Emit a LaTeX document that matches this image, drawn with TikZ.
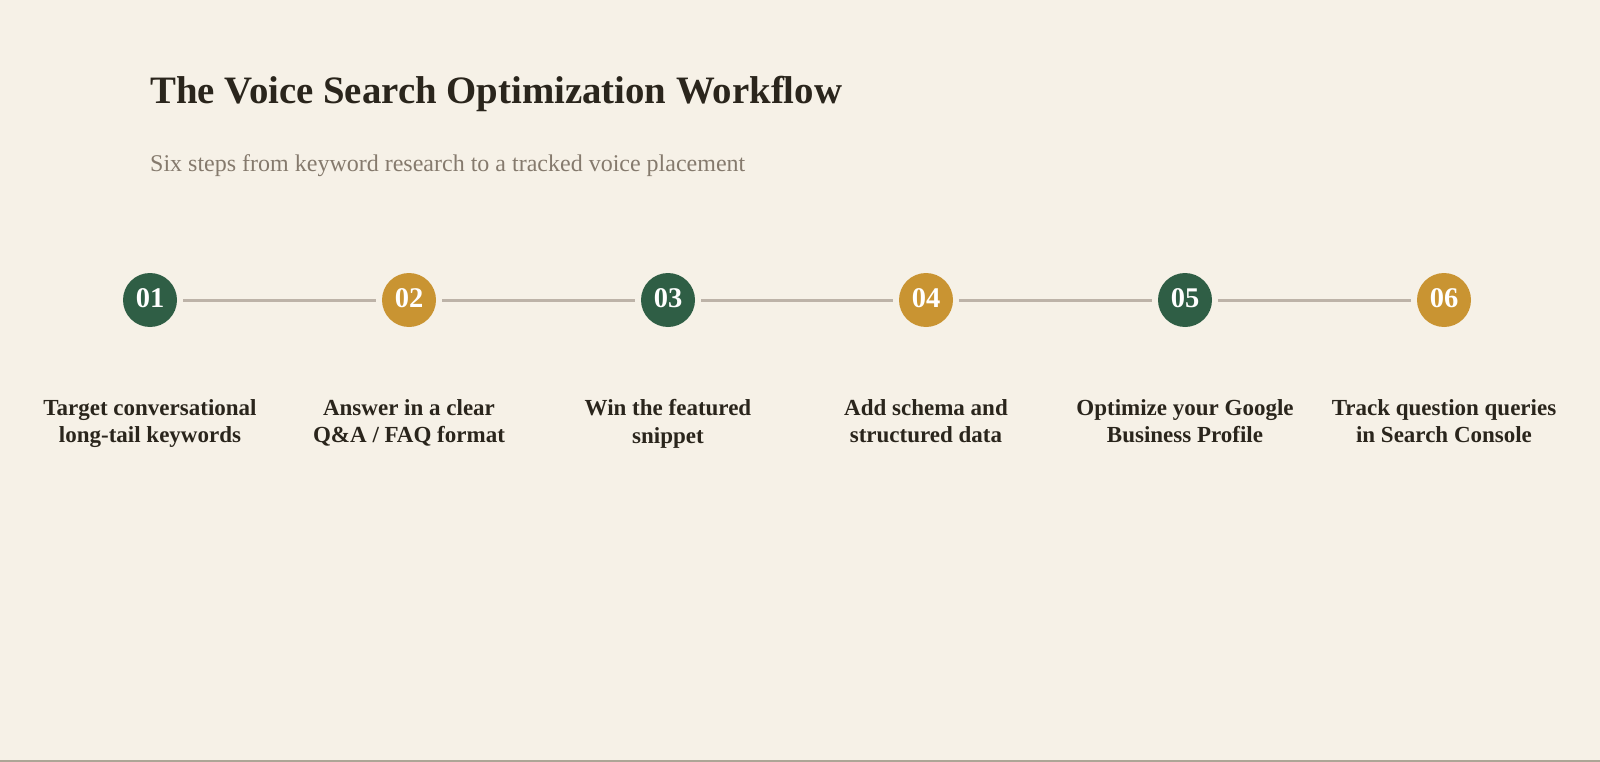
\documentclass[tikz,border=0pt]{standalone}
\usepackage{fontspec}
\setmainfont{Liberation Serif}
\definecolor{bg}{HTML}{F6F1E7}
\definecolor{stepgreen}{HTML}{2F5E45}
\definecolor{stepgold}{HTML}{C99432}
\definecolor{ink}{HTML}{2A251C}
\definecolor{subgray}{HTML}{857A6D}
\definecolor{linegray}{HTML}{BDB3A8}
\definecolor{edgegray}{HTML}{ADA596}
\begin{document}
\begin{tikzpicture}[x=1pt,y=-1pt,
  dot/.style={circle,minimum size=54pt,inner sep=0pt,text=white,font=\bfseries\fontsize{28.5}{30}\selectfont},
  gdot/.style={dot,fill=stepgreen},
  ydot/.style={dot,fill=stepgold},
  link/.style={draw=linegray,line width=3pt,shorten <=6pt,shorten >=6pt},
  label/.style={align=center,text=ink,font=\bfseries\fontsize{23}{27.5}\selectfont,anchor=north}]
\fill[bg] (0,0) rectangle (1600,762);
\useasboundingbox (0,0) rectangle (1600,762);
\draw[edgegray,line width=1.5pt] (0,761.2) -- (1600,761.2);
\node[anchor=base west,text=ink,font=\bfseries\fontsize{38.8}{44}\selectfont,inner sep=0pt] (title) at (150,104) {The Voice Search Optimization Workflow};
\node[anchor=base west,text=subgray,font=\fontsize{24}{28}\selectfont,inner sep=0pt] (sub) at (150,172) {Six steps from keyword research to a tracked voice placement};
\node[gdot] (s1) at (150,300) {\raisebox{4pt}{01}};
\node[ydot] (s2) at (409,300) {\raisebox{4pt}{02}};
\node[gdot] (s3) at (668,300) {\raisebox{4pt}{03}};
\node[ydot] (s4) at (926,300) {\raisebox{4pt}{04}};
\node[gdot] (s5) at (1185,300) {\raisebox{4pt}{05}};
\node[ydot] (s6) at (1444,300) {\raisebox{4pt}{06}};
\draw[link] (s1) -- (s2);
\draw[link] (s2) -- (s3);
\draw[link] (s3) -- (s4);
\draw[link] (s4) -- (s5);
\draw[link] (s5) -- (s6);
\node[label] (l1) at (150,396) {Target conversational\\long-tail keywords};
\node[label] (l2) at (409,396) {Answer in a clear\\Q\&A / FAQ format};
\node[label] (l3) at (668,396) {Win the featured\\snippet};
\node[label] (l4) at (926,396) {Add schema and\\structured data};
\node[label] (l5) at (1185,396) {Optimize your Google\\Business Profile};
\node[label] (l6) at (1444,396) {Track question queries\\in Search Console};
\end{tikzpicture}
\end{document}
